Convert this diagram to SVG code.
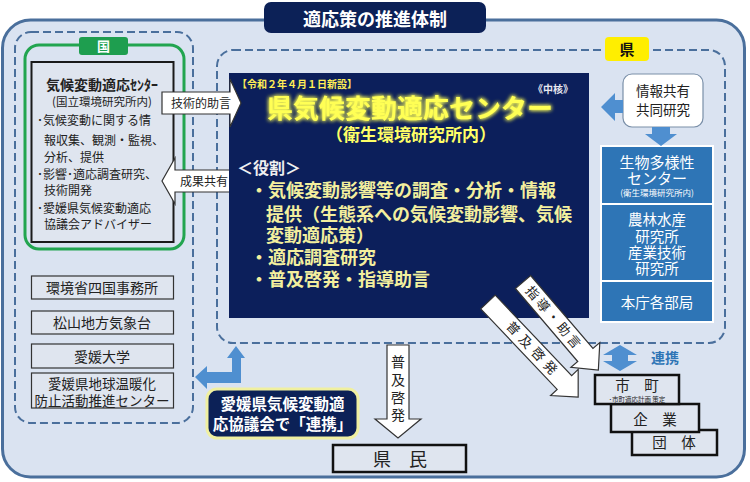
<svg xmlns="http://www.w3.org/2000/svg" width="750" height="482" viewBox="0 0 750 482">
<defs>
<style>
text{font-family:"Noto Sans CJK JP","Noto Sans",sans-serif;}
.dash{fill:none;stroke:#4a6f9c;stroke-width:2;stroke-dasharray:8 4;}
.lbox{fill:#dfe5ef;stroke:#333;stroke-width:1.2;}
.bbox{fill:#dfe5ef;stroke:#111;stroke-width:2.5;}
.dk{fill:#222;}
.wt{fill:#fff;}
.yl{fill:#f3ef9e;font-weight:bold;}
.warr{fill:#fff;stroke:#333;stroke-width:1.2;}
.barr{fill:#4f8fd0;}
.mid{text-anchor:middle;}
</style>
<filter id="glow" x="-10%" y="-40%" width="120%" height="180%">
<feGaussianBlur in="SourceGraphic" stdDeviation="2.2" result="b"/>
<feMerge><feMergeNode in="b"/><feMergeNode in="b"/><feMergeNode in="SourceGraphic"/></feMerge>
</filter>
</defs>
<rect x="0" y="0" width="750" height="482" fill="#fff"/>
<g id="frame">
<rect x="2.5" y="20" width="742" height="457" rx="28" fill="#dae3f1" stroke="#4a6f9c" stroke-width="3"/>
<rect x="264" y="2" width="222" height="31" rx="7" fill="#0c2157"/>
<text x="375" y="26" class="wt mid" font-size="18" font-weight="bold">適応策の推進体制</text>
</g>
<g id="kuni-group">
<rect x="15" y="32" width="178" height="391" rx="16" class="dash"/>
<rect x="25" y="45" width="159" height="204" rx="14" fill="none" stroke="#22a550" stroke-width="3"/>
<rect x="79" y="37" width="49" height="18" rx="3" fill="#1e9e4f"/>
<text x="103.5" y="51" class="wt mid" font-size="13" font-weight="bold">国</text>
</g>
<g id="national-center">
<rect x="31.5" y="62" width="142" height="180" fill="#dfe5ef" stroke="#1a1a1a" stroke-width="2"/>
<text x="102" y="90" class="dk mid" font-size="14" font-weight="bold">気候変動適応ｾﾝﾀｰ</text>
<text x="102" y="106" class="dk mid" font-size="11.5">(国立環境研究所内)</text>
<g class="dk" font-size="12">
<text x="37" y="125">･気候変動に関する情</text>
<text x="44" y="145">報収集、観測・監視、</text>
<text x="44" y="162">分析、提供</text>
<text x="37" y="179">･影響･適応調査研究、</text>
<text x="44" y="195">技術開発</text>
<text x="37" y="213">･愛媛県気候変動適応</text>
<text x="44" y="229">協議会アドバイザー</text>
</g>
</g>
<g id="moe">
<rect x="31.5" y="276" width="142" height="23" class="lbox"/>
<text x="102" y="293" class="dk mid" font-size="14">環境省四国事務所</text>
</g>
<g id="jma">
<rect x="31.5" y="311" width="142" height="23" class="lbox"/>
<text x="102" y="328" class="dk mid" font-size="14">松山地方気象台</text>
</g>
<g id="univ">
<rect x="31.5" y="344" width="142" height="24" class="lbox"/>
<text x="102" y="362" class="dk mid" font-size="14">愛媛大学</text>
</g>
<g id="warming-center">
<rect x="31.5" y="373" width="142" height="35" class="lbox"/>
<text x="102" y="389" class="dk mid" font-size="13.5">愛媛県地球温暖化</text>
<text x="102" y="405.5" class="dk mid" font-size="13.5">防止活動推進センター</text>
</g>
<g id="ken-group">
<rect x="217" y="50" width="508" height="293" rx="16" class="dash"/>
<rect x="605" y="37" width="44" height="24" rx="4" fill="#ffee00"/>
<text x="627" y="55" class="mid" font-size="15" font-weight="bold" fill="#111">県</text>
</g>
<g id="pref-center">
<rect x="229" y="73" width="360" height="245" fill="#0c1f5b"/>
<text x="237" y="88" font-size="10" font-weight="bold" fill="#ffee55">【令和２年４月１日新設】</text>
<text x="533" y="93" font-size="10" font-weight="bold" fill="#e8e8f0">《中核》</text>
<text x="410" y="118" class="mid" font-size="26" font-weight="bold" fill="#ffff55" filter="url(#glow)">県気候変動適応センター</text>
<text x="411" y="141" class="mid" font-size="17" font-weight="bold" fill="#ffff66">（衛生環境研究所内）</text>
<text x="237" y="174" font-size="16" font-weight="bold" fill="#f0f0f0">＜役割＞</text>
<text x="250" y="197" class="yl" font-size="18">・気候変動影響等の調査・分析・情報</text>
<text x="266" y="221" class="yl" font-size="18">提供（生態系への気候変動影響、気候</text>
<text x="266" y="242" class="yl" font-size="18">変動適応策）</text>
<text x="250" y="264" class="yl" font-size="18">・適応調査研究</text>
<text x="250" y="286" class="yl" font-size="18">・普及啓発・指導助言</text>
</g>
<g id="info-share">
<rect x="623" y="74" width="80" height="53" rx="9" fill="#fff" stroke="#7a8fa8" stroke-width="1.2"/>
<text x="663" y="96" class="dk mid" font-size="13.5">情報共有</text>
<text x="663" y="115" class="dk mid" font-size="13.5">共同研究</text>
</g>
<g id="pref-labs">
<rect x="600" y="145" width="114" height="178" fill="#fff"/>
<rect x="602" y="147" width="110" height="56" fill="#2e75b6"/>
<rect x="602" y="205" width="110" height="75" fill="#2e75b6"/>
<rect x="602" y="282" width="110" height="39" fill="#2e75b6"/>
<text x="657" y="168" class="wt mid" font-size="15">生物多様性</text>
<text x="657" y="184" class="wt mid" font-size="15">センター</text>
<text x="657" y="196" class="wt mid" font-size="8.5">(衛生環境研究所内)</text>
<text x="657" y="225" class="wt mid" font-size="14.5">農林水産</text>
<text x="657" y="242" class="wt mid" font-size="14.5">研究所</text>
<text x="657" y="258" class="wt mid" font-size="14.5">産業技術</text>
<text x="657" y="274" class="wt mid" font-size="14.5">研究所</text>
<text x="657" y="308" class="wt mid" font-size="14.5">本庁各部局</text>
</g>
<g id="council">
<rect x="207" y="389" width="151" height="49" rx="10" fill="#0c2157" stroke="#f0f0a0" stroke-width="3"/>
<text x="282.5" y="410" class="wt mid" font-size="15.5" font-weight="bold">愛媛県気候変動適</text>
<text x="282.5" y="430" class="wt mid" font-size="15.5" font-weight="bold">応協議会で「連携」</text>
</g>
<g id="dantai">
<rect x="632" y="430" width="85" height="25" class="bbox"/>
<text x="674" y="448" class="dk mid" font-size="14.5">団　体</text>
</g>
<g id="kigyo">
<rect x="611" y="404" width="88" height="28" class="bbox"/>
<text x="655" y="425" class="dk mid" font-size="14.5">企　業</text>
</g>
<g id="shicho">
<rect x="595" y="375" width="84" height="29" class="bbox"/>
<text x="637" y="391" class="dk mid" font-size="14.5">市　町</text>
<text x="637" y="401.5" class="dk mid" font-size="6.5">･市町適応計画 策定</text>
</g>
<g id="kenmin">
<rect x="333" y="445" width="133" height="27" class="bbox"/>
<text x="400" y="466" class="dk mid" font-size="18">県　民</text>
</g>
<g id="connectors">
<path class="warr" d="M162,92 H230 V79 L241,103 L230,127 V114 H162 Z"/>
<text x="201" y="108" class="dk mid" font-size="12">技術的助言</text>
<path class="warr" d="M229,170 H175 V158 L162,181 L175,204 V192 H229"/>
<text x="204" y="186" class="dk mid" font-size="12">成果共有</text>
<path class="barr" d="M623,100 H615 V93 L601,107 L615,121 V113 H623 Z"/>
<path class="barr" d="M652,127 H670 V134 H677 L661,146 L645,134 H652 Z"/>
<path class="barr" d="M620,345 L637,355 H628 V361 H637 L620,371 L603,361 H612 V355 H603 Z"/>
<text x="651" y="363" font-size="14" font-weight="bold" fill="#2e75b6">連携</text>
<path class="barr" d="M236,346 L245,358 H241 V383 H207 V389 L195,377 L207,366 V372 H232 V358 H227 Z"/>
<path class="warr" d="M387,345 H409 V419 H421 L398,438 L375,419 H387 Z"/>
<g class="dk mid" font-size="14">
<text x="398" y="367">普</text>
<text x="398" y="385">及</text>
<text x="398" y="403">啓</text>
<text x="398" y="420">発</text>
</g>
<g transform="translate(523,282) rotate(49.5)">
<path class="warr" d="M0,-10 H96 V-19 L116,0 L96,19 V10 H0 Z"/>
<text x="8" y="4.5" class="dk" font-size="13" letter-spacing="3">指導・助言</text>
</g>
<g transform="translate(488,302) rotate(46.5)">
<path class="warr" d="M0,-10 H111 V-19 L131,0 L111,19 V10 H0 Z"/>
<text x="30" y="4.5" class="dk" font-size="13" letter-spacing="5">普及啓発</text>
</g>
</g>
</svg>
